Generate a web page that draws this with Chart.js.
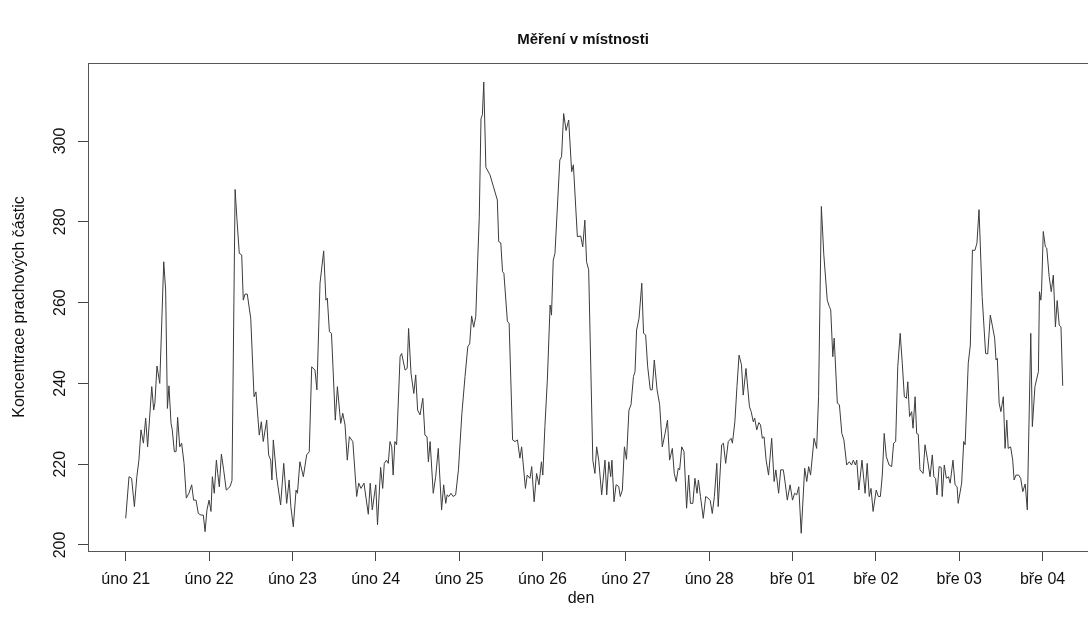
<!DOCTYPE html>
<html>
<head>
<meta charset="utf-8">
<script src="https://cdn.jsdelivr.net/npm/chart.js@4/dist/chart.umd.min.js"></script>
<style>
  html, body { margin: 0; padding: 0; background: #fff; }
  canvas { display: block; }
</style>
</head>
<body>
<canvas id="mereni" width="1088" height="630"></canvas>
<script>
// hodiny od 21. 2. 00:00
var hours = [
  0, 0.95, 1.7, 2.5, 3.2, 3.8, 4.4, 5.1, 5.75, 6.3, 7.5, 8.05, 8.4, 9.0, 9.8, 10.95, 11.5, 12.0, 12.45, 13.05,
  13.4, 14.0, 14.5, 14.95, 15.55, 16.1, 16.8, 17.45, 18.2, 19.0, 19.55, 20.25, 20.9, 21.7, 22.35, 22.85, 23.4, 24.0, 24.55, 24.95,
  25.5, 26.1, 26.5, 26.95, 27.55, 28.2, 28.95, 29.55, 30.1, 30.6, 31.5, 32.0, 32.7, 33.4, 33.85, 34.35, 35.0, 36.0, 36.95, 37.5,
  38.45, 39.05, 39.6, 40.6, 41.15, 41.75, 42.1, 42.5, 43.45, 44.6, 45.5, 46.35, 47.05, 47.55, 48.25, 49.05, 49.45, 50.15, 51.15, 52.1,
  52.85, 53.55, 54.5, 55.05, 55.95, 57.0, 57.65, 58.05, 58.65, 59.25, 60.35, 60.95, 61.9, 62.5, 63.15, 63.8, 64.4, 65.4, 66.5, 67.1,
  67.75, 68.6, 69.85, 70.4, 71.0, 72.0, 72.5, 73.4, 74.0, 74.45, 75.1, 75.6, 76.1, 76.6, 77.0, 77.5, 78.0, 79.0, 79.45, 80.45,
  81.05, 81.45, 82.15, 82.95, 83.5, 84.05, 84.75, 85.55, 86.15, 86.75, 87.15, 87.65, 88.55, 89.25, 90.0, 90.95, 91.55, 92.15, 92.55, 93.05,
  93.65, 94.25, 95.0, 95.8, 96.8, 97.7, 98.5, 99.05, 99.6, 100.2, 100.8, 101.35, 101.8, 102.3, 102.7, 103.1, 103.7, 104.9, 107.0, 107.4,
  108.0, 108.5, 108.9, 109.9, 110.4, 111.4, 112.1, 112.8, 113.5, 114.0, 115.1, 115.6, 116.4, 116.9, 117.6, 118.3, 119.0, 119.7, 120.1, 120.7,
  121.4, 122.2, 122.6, 123.1, 123.6, 125.0, 125.5, 126.1, 126.8, 127.55, 128.4, 128.9, 130.05, 131.0, 131.6, 132.2, 132.7, 133.3, 134.5, 135.1,
  135.6, 136.2, 137.05, 138.0, 138.5, 139.1, 139.65, 140.0, 140.6, 141.2, 141.95, 142.4, 143.0, 143.6, 144.2, 144.9, 145.5, 146.2, 146.65, 147.1,
  147.8, 148.6, 149.1, 149.7, 150.3, 151.05, 151.6, 152.2, 153.0, 153.75, 154.5, 155.3, 156.0, 156.6, 157.4, 157.95, 158.5, 159.1, 159.5, 160.1,
  160.75, 161.5, 162.1, 162.6, 163.3, 163.9, 164.5, 164.9, 165.5, 166.3, 167.0, 167.7, 168.3, 168.9, 169.5, 170.2, 170.6, 171.6, 172.1, 172.75,
  173.5, 174.3, 174.7, 175.4, 176.0, 176.6, 177.3, 177.8, 178.6, 179.6, 180.1, 180.7, 181.1, 181.7, 182.3, 182.8, 183.3, 183.8, 184.4, 185.1,
  186.0, 186.7, 187.2, 188.0, 188.6, 189.35, 189.9, 190.5, 191.3, 192.0, 192.6, 193.2, 193.8, 194.5, 195.5, 196.1, 196.65, 197.2, 198.2, 198.95,
  199.5, 200.3, 201.0, 202.0, 202.6, 203.0, 203.6, 204.0, 204.9, 205.5, 206.2, 206.8, 207.6, 208.35, 209.0, 209.5, 210.1, 210.5, 211.1, 212.0,
  212.9, 213.5, 214.1, 214.6, 215.2, 216.1, 216.7, 217.3, 217.85, 218.4, 219.0, 219.8, 220.55, 221.1, 221.7, 222.3, 223.0, 223.6, 224.2, 224.8,
  225.2, 225.7, 226.3, 226.7, 227.3, 227.75, 228.2, 228.7, 229.6, 230.15, 230.9, 231.6, 232.25, 232.7, 233.2, 233.6, 234.2, 234.8, 235.1, 235.7,
  236.3, 236.9, 237.4, 238.2, 238.8, 239.4, 239.7, 240.7, 241.3, 241.7, 242.6, 243.2, 243.8, 244.5, 245.1, 245.7, 246.6, 247.6, 248.2, 248.95,
  249.6, 250.2, 250.6, 250.97, 251.5, 252.0, 252.7, 253.2, 253.7, 254.1, 254.8, 255.4, 255.8, 256.35, 257.1, 257.7, 258.3, 259.0, 259.6, 260.6,
  261.05, 261.8, 262.8, 263.1, 263.5, 263.7, 264.2, 264.8, 265.2, 265.9, 266.5, 267.1, 267.7, 268.2, 268.8, 269.3, 269.8
];

// koncentrace prachových částic
var values = [
  206.6, 216.9, 216.5, 209.5, 216.9, 221.0, 228.5, 225.2, 231.4, 224.3, 239.2, 233.4, 235.1, 244.3, 240.0, 270.1, 263.1, 233.8, 239.4, 230.1,
  228.5, 223.1, 223.1, 231.6, 224.3, 225.2, 220.2, 211.6, 212.8, 214.9, 211.1, 211.1, 207.8, 207.4, 207.4, 203.3, 208.7, 211.1, 208.3, 216.9,
  212.8, 221.0, 217.7, 214.4, 222.5, 218.6, 213.6, 214.0, 214.6, 216.0, 288.0, 281.0, 272.2, 271.8, 260.6, 262.1, 262.1, 256.1, 236.7, 237.9,
  227.2, 230.5, 225.6, 230.9, 222.3, 221.0, 216.1, 226.0, 216.9, 209.9, 220.2, 210.3, 216.1, 209.5, 204.5, 213.6, 212.8, 220.6, 216.9, 222.3,
  223.1, 244.1, 243.3, 238.4, 264.8, 272.8, 260.6, 261.1, 252.8, 252.4, 230.9, 239.2, 230.1, 232.6, 229.7, 221.0, 226.8, 225.6, 212.0, 215.3,
  214.0, 215.3, 207.6, 215.3, 208.7, 214.9, 205.0, 219.2, 214.0, 220.2, 221.0, 220.2, 225.6, 224.3, 217.3, 225.6, 224.8, 246.6, 247.4, 243.3,
  243.7, 253.6, 242.5, 237.5, 242.1, 233.4, 232.2, 236.3, 227.2, 226.8, 220.6, 225.6, 212.8, 216.9, 223.9, 208.7, 214.9, 210.3, 212.4, 212.0,
  212.8, 212.0, 212.4, 218.6, 232.6, 241.7, 249.1, 249.8, 256.7, 253.9, 256.6, 270.5, 281.0, 305.5, 306.5, 314.6, 293.5, 291.6, 285.4, 275.1,
  274.8, 267.7, 267.2, 255.3, 254.9, 226.0, 225.6, 226.0, 221.5, 224.3, 214.0, 217.3, 216.5, 219.4, 210.7, 217.7, 214.9, 220.6, 217.3, 229.3,
  240.8, 259.4, 256.9, 270.5, 272.2, 295.3, 296.1, 306.8, 302.6, 305.2, 292.4, 294.1, 276.3, 276.5, 273.8, 280.4, 270.1, 268.1, 221.0, 217.7,
  224.3, 221.0, 212.4, 221.0, 212.4, 220.6, 216.9, 221.0, 210.7, 214.9, 214.5, 212.0, 213.6, 224.3, 221.2, 233.4, 234.7, 241.7, 242.9, 253.2,
  256.1, 264.8, 252.4, 252.0, 244.1, 238.4, 238.4, 245.8, 238.4, 234.7, 224.3, 227.6, 230.9, 221.0, 223.9, 217.7, 215.7, 219.0, 218.6, 224.3,
  223.1, 209.1, 217.3, 210.3, 210.3, 216.5, 212.8, 216.1, 212.0, 206.6, 212.0, 211.6, 211.0, 207.8, 212.0, 220.2, 209.5, 224.8, 225.2, 220.2,
  225.6, 226.4, 225.2, 230.5, 239.2, 247.0, 244.6, 237.1, 243.7, 234.2, 233.0, 230.5, 231.4, 228.5, 230.3, 229.7, 226.4, 226.8, 221.0, 217.3,
  226.4, 215.7, 218.6, 212.8, 218.6, 218.6, 215.3, 211.1, 214.9, 211.1, 212.8, 212.4, 214.4, 202.9, 219.0, 215.7, 219.4, 217.3, 226.4, 223.9,
  236.7, 283.8, 272.0, 260.6, 259.0, 258.2, 246.6, 251.2, 235.1, 234.7, 227.6, 226.0, 219.8, 220.6, 219.8, 221.0, 219.8, 221.0, 213.6, 221.0,
  212.8, 220.2, 212.0, 214.0, 208.3, 213.6, 212.0, 212.0, 217.3, 227.6, 221.9, 219.8, 219.4, 225.2, 225.6, 244.1, 252.4, 245.0, 236.7, 236.3,
  240.4, 231.8, 233.0, 228.9, 236.7, 227.6, 227.4, 218.6, 217.7, 224.8, 221.0, 216.9, 222.3, 216.9, 216.5, 212.4, 219.4, 219.2, 212.0, 219.8,
  216.5, 216.9, 215.3, 221.0, 214.9, 214.4, 210.3, 215.3, 225.6, 224.8, 245.0, 249.5, 273.0, 272.9, 274.7, 283.0, 261.5, 247.4, 247.3, 256.9,
  254.0, 251.2, 245.8, 246.2, 235.1, 233.0, 236.7, 223.9, 230.9, 223.9, 224.3, 221.0, 216.1, 217.3, 217.3, 216.5, 213.2, 215.1, 208.7, 252.4,
  229.3, 239.2, 242.9, 262.7, 260.6, 262.7, 277.6, 273.8, 273.5, 266.4, 262.7, 266.8, 254.0, 260.5, 254.4, 254.0, 239.4
];

var dayLabels = ['úno 21', 'úno 22', 'úno 23', 'úno 24', 'úno 25', 'úno 26',
                 'úno 27', 'úno 28', 'bře 01', 'bře 02', 'bře 03', 'bře 04'];
var yTicks = [200, 220, 240, 260, 280, 300];

var points = hours.map(function(h, i) { return { x: h, y: values[i] }; });

// rámeček, popisky osy y a nadpisy (R styl)
var rStyle = {
    id: 'rStyle',
    afterDraw: function(chart) {
        var c = chart.ctx, a = chart.chartArea, ys = chart.scales.y;
        c.save();
        c.strokeStyle = '#555';
        c.lineWidth = 1;
        c.strokeRect(a.left + 0.5, a.top + 0.5, 1100, a.bottom - a.top);
        c.fillStyle = '#111';
        c.font = '16px "Liberation Sans", Arial, sans-serif';
        c.textAlign = 'center';
        c.textBaseline = 'alphabetic';
        yTicks.forEach(function(v) {
            c.save();
            c.translate(65, ys.getPixelForValue(v));
            c.rotate(-Math.PI / 2);
            c.fillText(String(v), 0, 0);
            c.restore();
        });
        c.save();
        c.translate(24, (a.top + a.bottom) / 2);
        c.rotate(-Math.PI / 2);
        c.fillText('Koncentrace prachových částic', 0, 0);
        c.restore();
        c.fillText('den', 581, 603);
        c.font = 'bold 15px "Liberation Sans", Arial, sans-serif';
        c.fillText('Měření v místnosti', 583, 44);
        c.restore();
    }
};

new Chart(document.getElementById('mereni'), {
    type: 'line',
    data: {
        datasets: [{
            data: points,
            borderColor: '#3c3c3c',
            borderWidth: 1,
            pointRadius: 0,
            tension: 0,
            fill: false
        }]
    },
    options: {
        responsive: false,
        animation: false,
        devicePixelRatio: 1,
        layout: { padding: { top: 63, right: 0, left: 0, bottom: 0 } },
        plugins: { legend: { display: false }, title: { display: false }, tooltip: { enabled: false } },
        scales: {
            x: {
                type: 'linear',
                min: -10.86,
                max: 277.08,
                afterFit: function(s) { s.height = 79; },
                afterBuildTicks: function(s) {
                    s.ticks = dayLabels.map(function(_, i) { return { value: i * 24 }; });
                },
                border: { display: false },
                grid: { drawOnChartArea: false, drawTicks: true, tickLength: 10, color: '#444' },
                ticks: {
                    autoSkip: false,
                    maxRotation: 0,
                    padding: 9,
                    color: '#111',
                    font: { family: '"Liberation Sans", Arial, sans-serif', size: 16 },
                    callback: function(v, i) { return dayLabels[i]; }
                }
            },
            y: {
                type: 'linear',
                min: 198.51,
                max: 319.31,
                afterFit: function(s) { s.width = 88; },
                afterBuildTicks: function(s) {
                    s.ticks = yTicks.map(function(v) { return { value: v }; });
                },
                border: { display: false },
                grid: { drawOnChartArea: false, drawTicks: true, tickLength: 10, color: '#444' },
                ticks: { display: false }
            }
        }
    },
    plugins: [rStyle]
});
</script>
</body>
</html>
